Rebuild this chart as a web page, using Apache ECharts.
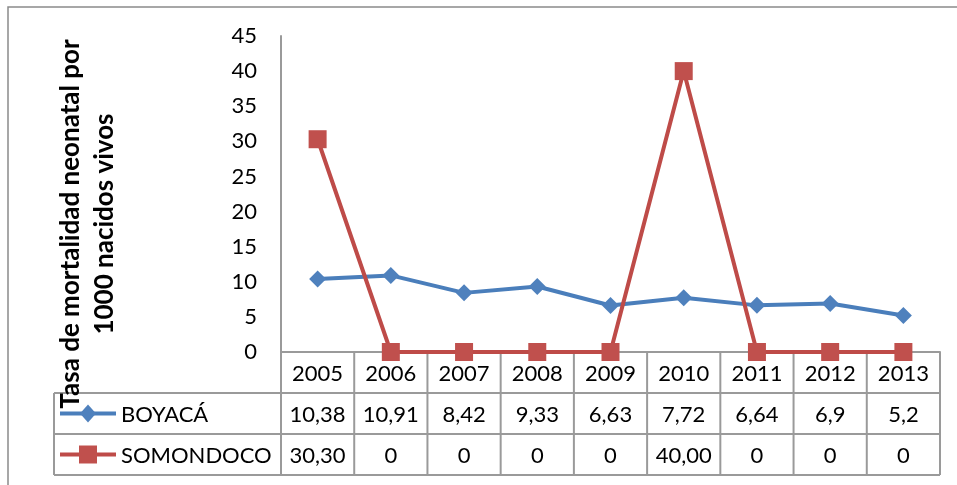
<!DOCTYPE html>
<html>
<head>
<meta charset="utf-8">
<script src="https://cdn.jsdelivr.net/npm/echarts@6/dist/echarts.min.js"></script>
<style>
html,body{margin:0;padding:0;background:#fff;}
#c{width:957px;height:485px;}
</style>
</head>
<body>
<div id="c"></div>
<script>
const categories = ['2005','2006','2007','2008','2009','2010','2011','2012','2013'];
const boyaca = [10.38, 10.91, 8.42, 9.33, 6.63, 7.72, 6.64, 6.9, 5.2];
const somondoco = [30.30, 0, 0, 0, 0, 40.00, 0, 0, 0];
const boyacaLabels = ['10,38','10,91','8,42','9,33','6,63','7,72','6,64','6,9','5,2'];
const somondocoLabels = ['30,30','0','0','0','0','40,00','0','0','0'];
const seriesNames = ['BOYACÁ', 'SOMONDOCO'];
const yTitle = 'Tasa de mortalidad neonatal por\n1000 nacidos vivos';

const FONT = 'Lato, "Open Sans", sans-serif';
const BLUE_LINE = '#4A7EBB', BLUE_FILL = '#4F81BD';
const RED_LINE = '#BE4B48', RED_FILL = '#C0504D';
const GRID_COLOR = '#9a9a9a';

const chart = echarts.init(document.getElementById('c'), null, {renderer: 'canvas'});
chart.setOption({
  animation: false,
  backgroundColor: '#fff',
  grid: {left: 281, right: 17, top: 36, bottom: 133, containLabel: false},
  xAxis: {
    type: 'category', data: categories, boundaryGap: true,
    axisLine: {show: true, lineStyle: {color: GRID_COLOR, width: 2}},
    axisTick: {show: false}, axisLabel: {show: false}, splitLine: {show: false}
  },
  yAxis: {
    type: 'value', min: 0, max: 45, interval: 5,
    axisLine: {show: true, lineStyle: {color: GRID_COLOR, width: 2}},
    axisTick: {show: false}, splitLine: {show: false},
    axisLabel: {fontSize: 22, color: '#000', fontFamily: FONT, margin: 24}
  },
  series: [
    {name: seriesNames[0], type: 'line', data: boyaca, symbol: 'diamond', symbolSize: 17,
     lineStyle: {color: BLUE_LINE, width: 4}, itemStyle: {color: BLUE_FILL}, z: 3},
    {name: seriesNames[1], type: 'line', data: somondoco, symbol: 'rect', symbolSize: 18,
     lineStyle: {color: RED_LINE, width: 4}, itemStyle: {color: RED_FILL}, z: 4}
  ]
});

// Build the data table under the plot from the axis geometry
const c0 = chart.convertToPixel({xAxisIndex: 0}, categories[0]);
const c1 = chart.convertToPixel({xAxisIndex: 0}, categories[1]);
const colW = c1 - c0;
const tLeft = c0 - colW / 2;
const n = categories.length;
const tRight = tLeft + colW * n;
const yZero = chart.convertToPixel({yAxisIndex: 0}, 0);
const rowH = 41;
const legLeft = 54;
const g = [];
const lineStyle = {stroke: GRID_COLOR, lineWidth: 2};
function hline(x1, x2, y) { g.push({type: 'line', z: 1, shape: {x1, y1: y, x2, y2: y}, style: lineStyle}); }
function vline(x, y1, y2) { g.push({type: 'line', z: 1, shape: {x1: x, y1, x2: x, y2}, style: lineStyle}); }
hline(tLeft, tRight, yZero);
hline(legLeft, tRight, yZero + rowH);
hline(legLeft, tRight, yZero + 2 * rowH);
hline(legLeft, tRight, yZero + 3 * rowH);
for (let i = 0; i <= n; i++) vline(tLeft + i * colW, yZero, yZero + 3 * rowH);
vline(legLeft, yZero + rowH, yZero + 3 * rowH);

const rowsText = [categories, boyacaLabels, somondocoLabels];
rowsText.forEach((row, r) => {
  row.forEach((t, i) => {
    g.push({type: 'text', z: 5, x: tLeft + (i + 0.5) * colW, y: yZero + (r + 0.5) * rowH + 1,
      style: {text: t, fill: '#000', font: '22px ' + FONT, textAlign: 'center', textVerticalAlign: 'middle'}});
  });
});

// legend keys inside the table
const keyX1 = 60, keyX2 = 116, keyMid = 88;
[[BLUE_LINE, BLUE_FILL, 'diamond'], [RED_LINE, RED_FILL, 'rect']].forEach((s, k) => {
  const cy = yZero + (k + 1.5) * rowH;
  g.push({type: 'line', z: 5, shape: {x1: keyX1, y1: cy, x2: keyX2, y2: cy}, style: {stroke: s[0], lineWidth: 4}});
  if (s[2] === 'diamond') {
    g.push({type: 'polygon', z: 6, shape: {points: [[keyMid, cy - 9], [keyMid + 8, cy], [keyMid, cy + 9], [keyMid - 8, cy]]}, style: {fill: s[1]}});
  } else {
    g.push({type: 'rect', z: 6, shape: {x: keyMid - 9, y: cy - 9, width: 18, height: 18}, style: {fill: s[1]}});
  }
  g.push({type: 'text', z: 5, x: 121, y: cy + 1,
    style: {text: seriesNames[k], fill: '#000', font: '22px ' + FONT, textAlign: 'left', textVerticalAlign: 'middle'}});
});

// y axis title
g.push({type: 'text', z: 7, x: 88, y: 224, rotation: Math.PI / 2,
  style: {text: yTitle, fill: '#000', font: 'bold 26px ' + FONT, textAlign: 'center', textVerticalAlign: 'middle', lineHeight: 34}});

// outer frame
g.push({type: 'rect', z: 0, shape: {x: 8, y: 7, width: 1000, height: 1000}, style: {fill: 'none', stroke: '#8a8a8a', lineWidth: 1.5}});

chart.setOption({graphic: g});
</script>
</body>
</html>
